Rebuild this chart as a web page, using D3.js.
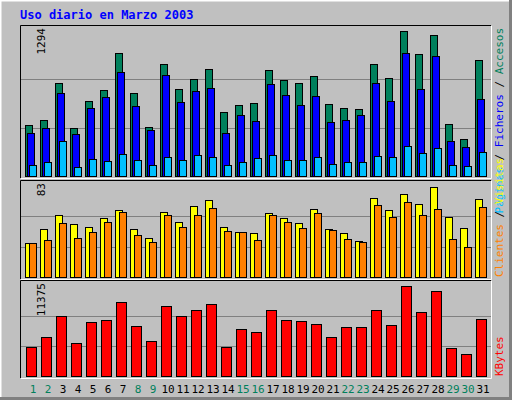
<!DOCTYPE html>
<html><head><meta charset="utf-8">
<script src="https://cdn.jsdelivr.net/npm/d3@7"></script>
<style>body{margin:0;background:#fff}</style>
</head><body>
<script>
const days = d3.range(1, 32);
const weekend = [1, 2, 8, 9, 15, 16, 22, 23, 29, 30];
const hits = [458,502,827,431,669,766,1100,739,440,1003,774,862,959,572,634,651,950,854,827,889,642,607,598,1003,871,1294,1091,1258,466,326,1038];
const files = [387,431,739,378,607,704,924,625,414,898,660,757,783,387,546,493,818,722,634,713,484,502,546,827,669,1100,774,1074,308,255,686];
const pages = [97,123,308,79,150,132,194,141,97,167,141,185,167,97,123,158,185,141,141,167,106,123,123,176,167,264,202,246,97,88,211];
const visits = [31,44,57,48,46,54,61,44,36,59,50,65,70,46,41,40,58,54,49,62,44,40,33,72,61,76,67,82,55,45,71];
const sites = [31,34,49,36,41,50,59,38,32,57,46,57,63,42,41,34,57,50,45,58,43,35,32,66,55,68,57,62,35,27,64];
const kbytes = [3710,4945,7540,4200,6800,7045,9395,6300,4450,8900,7540,8280,9150,3710,5935,5560,8280,7045,6920,6550,4945,6180,6180,8280,6430,11375,8035,10755,3585,2840,7170];

const W = 512, H = 400;
const mono = "DejaVu Sans Mono";
const svg = d3.select("body").append("svg").attr("width", W).attr("height", H);

svg.append("rect").attr("width", W).attr("height", H).attr("fill", "#c0c0c0");
svg.append("path").attr("d", `M0.5,${H}V0.5H${W}`).attr("stroke", "#fff").attr("stroke-width", 2).attr("fill", "none");
svg.append("path").attr("d", `M0,${H - 1.5}H${W - 1.5}V0`).attr("stroke", "#808080").attr("stroke-width", 3).attr("fill", "none");

svg.append("text").attr("x", 20).attr("y", 19).attr("font-family", mono).attr("font-weight", "bold")
  .attr("font-size", 12).attr("fill", "#0000ff").text("Uso diario en Marzo 2003");

const x = d3.scaleLinear().domain([1, 32]).range([25, 490]);

function panel(top, bottom, max, series, label) {
  const y = d3.scaleLinear().domain([0, max]).range([bottom, bottom - (bottom - top - 3)]);
  // frame
  svg.append("path").attr("d", `M20.5,${bottom + 2}V${top - 2.5}H491`).attr("stroke", "#000").attr("fill", "none");
  svg.append("path").attr("d", `M21,${bottom + 2.5}H491.5V${top - 2}`).attr("stroke", "#fff").attr("fill", "none");
  [1 / 3, 2 / 3].forEach(f => {
    svg.append("line").attr("x1", 21).attr("x2", 491)
      .attr("y1", Math.round(y(max * f)) + 0.5).attr("y2", Math.round(y(max * f)) + 0.5)
      .attr("stroke", "#808080");
  });
  series.forEach(s => {
    svg.append("g").selectAll("rect").data(s.values).join("rect")
      .attr("x", (d, i) => x(days[i]) + s.off + 0.5)
      .attr("width", s.w)
      .attr("y", d => Math.round(y(d)) + 0.5)
      .attr("height", d => bottom - Math.round(y(d)))
      .attr("fill", s.color).attr("stroke", "#000");
  });
  svg.append("text").attr("transform", `translate(45,${top}) rotate(-90)`)
    .attr("text-anchor", "end").attr("font-family", mono).attr("font-size", 11)
    .attr("fill", "#000").text(max);
  const t = svg.append("text").attr("font-family", mono).attr("font-size", 11)
    .attr("transform", `translate(503,${label.anchor === "end" ? top : bottom}) rotate(-90)`)
    .attr("text-anchor", label.anchor);
  label.parts.forEach(p => t.append("tspan").attr("fill", p[1]).text(p[0]));
}

panel(28, 176, 1294, [
  { values: hits, color: "#00805c", off: 0, w: 7 },
  { values: files, color: "#0000ff", off: 2, w: 7 },
  { values: pages, color: "#00c0ff", off: 4, w: 7 }
], { anchor: "end", parts: [["Páginas", "#00c0ff"], [" / ", "#000"], ["Ficheros", "#0000ff"], [" / ", "#000"], ["Accesos", "#00805c"]] });

panel(183, 277, 83, [
  { values: visits, color: "#ffff00", off: 0, w: 7 },
  { values: sites, color: "#ff8000", off: 4, w: 7 }
], { anchor: "start", parts: [["Clientes", "#ff8000"], [" / ", "#000"], ["Visitas", "#ffff00"]] });

panel(283, 376, 11375, [
  { values: kbytes, color: "#ff0000", off: 1, w: 10 }
], { anchor: "start", parts: [["KBytes", "#ff0000"]] });

svg.append("g").selectAll("text").data(days).join("text")
  .attr("x", d => x(d) + 8).attr("y", 393).attr("text-anchor", "middle")
  .attr("font-family", mono).attr("font-size", 11)
  .attr("fill", d => weekend.includes(d) ? "#00805c" : "#000").text(d => d);
</script>
</body></html>
